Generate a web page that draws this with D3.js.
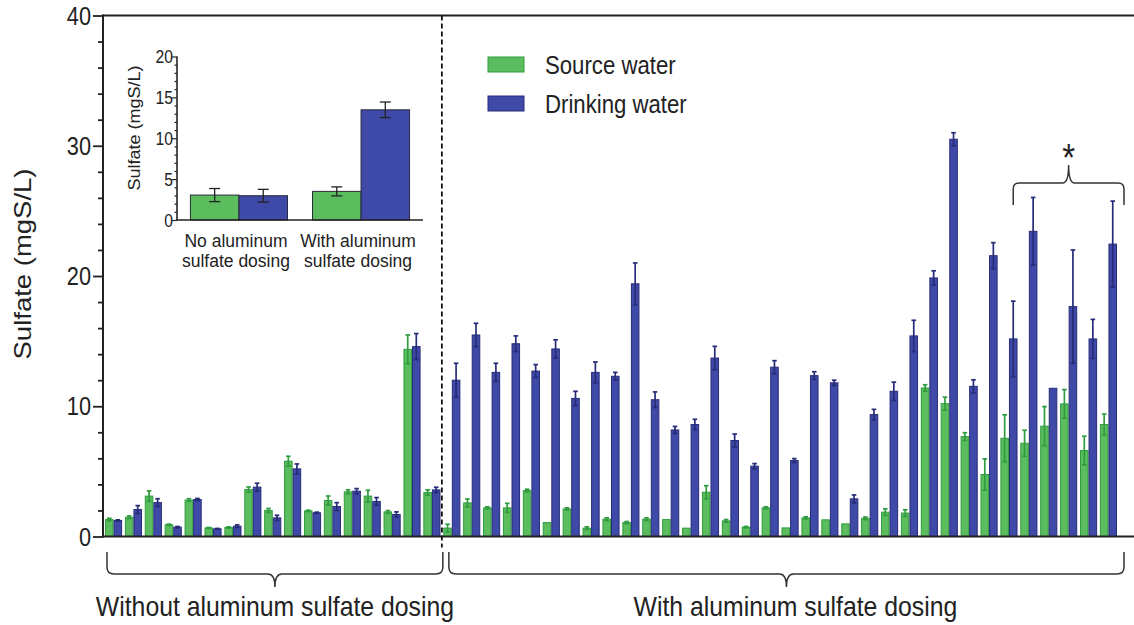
<!DOCTYPE html>
<html>
<head>
<meta charset="utf-8">
<script src="https://cdn.jsdelivr.net/npm/d3@7"></script>
<style>
  html, body { margin: 0; padding: 0; background: #fff; }
  svg { display: block; font-family: "Liberation Sans", Arial, Helvetica, sans-serif; }
</style>
</head>
<body>
<svg id="chart" width="1134" height="625"></svg>
<script>
// Sulfate in source and drinking water, per treatment plant (mgS/L)
const plantsWithout = 17;   // plants without aluminum sulfate dosing
const plantsWith = 34;      // plants with aluminum sulfate dosing

const sourceWater = [
  1.3, 1.48, 3.1, 0.9, 2.8, 0.66, 0.69, 3.6, 2.0, 5.78, 1.97, 2.76, 3.43, 3.1, 1.89, 14.37, 3.38,
  0.64, 2.58, 2.2, 2.2, 3.53, 1.07, 2.12, 0.64, 1.33, 1.07, 1.33, 1.3, 0.64, 3.4, 1.2, 0.72, 2.2,
  0.66, 1.43, 1.28, 0.97, 1.4, 1.87, 1.8, 11.4, 10.2, 7.67, 4.76, 7.54, 7.16, 8.47, 10.18, 6.6, 8.6
];
const sourceErr = [
  0.1, 0.1, 0.4, 0.05, 0.1, 0.03, 0.05, 0.2, 0.15, 0.38, 0.05, 0.35, 0.15, 0.45, 0.1, 1.1, 0.2,
  0.3, 0.3, 0.08, 0.35, 0.1, 0, 0.08, 0.1, 0.1, 0.08, 0.1, 0, 0, 0.5, 0.1, 0.05, 0.08,
  0, 0.08, 0, 0, 0.1, 0.25, 0.25, 0.25, 0.5, 0.3, 1.2, 1.8, 1.0, 1.5, 1.1, 1.1, 0.8
];
const drinkingWater = [
  1.23, 2.07, 2.6, 0.72, 2.84, 0.59, 0.79, 3.79, 1.43, 5.19, 1.82, 2.3, 3.48, 2.69, 1.69, 14.58, 3.58,
  12.0, 15.47, 12.6, 14.8, 12.7, 14.4, 10.6, 12.6, 12.3, 19.4, 10.5, 8.18, 8.6, 13.7, 7.37, 5.4, 13.0,
  5.83, 12.35, 11.8, 2.89, 9.36, 11.15, 15.4, 19.85, 30.5, 11.53, 21.56, 15.17, 23.43, 11.38, 17.65, 15.17, 22.45
];
const drinkingErr = [
  0.05, 0.3, 0.3, 0.05, 0.08, 0.03, 0.1, 0.3, 0.2, 0.38, 0.05, 0.3, 0.2, 0.3, 0.2, 1.0, 0.2,
  1.3, 0.9, 0.7, 0.6, 0.5, 0.7, 0.55, 0.8, 0.3, 1.6, 0.6, 0.27, 0.4, 0.9, 0.5, 0.2, 0.5,
  0.15, 0.3, 0.2, 0.3, 0.4, 0.7, 1.2, 0.55, 0.5, 0.5, 1.0, 2.9, 2.6, 0, 4.35, 1.5, 3.3
];

// Inset: means over the two plant groups
const insetCategories = [["No aluminum", "sulfate dosing"], ["With aluminum", "sulfate dosing"]];
const insetSource = [3.05, 3.5];
const insetSourceErr = [0.8, 0.55];
const insetDrinking = [2.97, 13.48];
const insetDrinkingErr = [0.78, 0.95];

const seriesNames = ["Source water", "Drinking water"];
const groupLabels = ["Without aluminum sulfate dosing", "With aluminum sulfate dosing"];
const mainTicks = [0, 10, 20, 30, 40];
const insetTicks = [0, 5, 10, 15, 20];

const colors = {
  greenFill: "#5cbd5e", greenLine: "#2f9d3f",
  blueFill: "#3f49a7", blueLine: "#272c78",
  ink: "#222"
};
const SQ = 0.87; // horizontal text compression of the figure's typeface

const svg = d3.select("#chart");

// Text drawn in a compressed typeface: a group with a horizontal scale
function label(parent, x, y, str, size, anchor, rotate, sq) {
  const g = parent.append("g")
    .attr("transform", `translate(${x},${y}) scale(${sq || SQ},1)` + (rotate ? ` rotate(${rotate})` : ""));
  g.append("text").attr("x", 0).attr("y", 0)
    .attr("font-size", size).attr("text-anchor", anchor || "start")
    .attr("fill", colors.ink).text(str);
  return g;
}

// ---------- Main chart ----------
const axisX = 103, plotRight = 1134;
const y = d3.scaleLinear().domain([0, 40]).range([536.5, 15.5]);
const n = plantsWithout + plantsWith;
const x = d3.scaleBand().domain(d3.range(n)).range([103, 1119]).paddingInner(0.14).paddingOuter(0.1);
const xs = d3.scaleBand().domain([0, 1]).range([0, x.bandwidth()]);

const rows = d3.range(n).map(i => ({
  i,
  vals: [
    { s: 0, v: sourceWater[i], e: sourceErr[i] },
    { s: 1, v: drinkingWater[i], e: drinkingErr[i] }
  ]
}));

const groups = svg.append("g").selectAll("g").data(rows).join("g")
  .attr("transform", d => `translate(${x(d.i)},0)`);

groups.selectAll("rect").data(d => d.vals).join("rect")
  .attr("x", d => xs(d.s) + 0.5)
  .attr("y", d => y(d.v))
  .attr("width", xs.bandwidth() - 1)
  .attr("height", d => y(0) - y(d.v))
  .attr("fill", d => d.s ? colors.blueFill : colors.greenFill)
  .attr("stroke", d => d.s ? colors.blueLine : colors.greenLine)
  .attr("stroke-width", 1);

// Error bars (mean ± SD), caps at both ends
const errs = groups.selectAll("g.err").data(d => d.vals.filter(v => v.e > 0)).join("g")
  .attr("class", "err")
  .attr("stroke", d => d.s ? colors.blueLine : colors.greenLine)
  .attr("stroke-width", 1.7);
errs.append("line")
  .attr("x1", d => xs(d.s) + xs.bandwidth() / 2).attr("x2", d => xs(d.s) + xs.bandwidth() / 2)
  .attr("y1", d => y(d.v + d.e)).attr("y2", d => y(Math.max(0, d.v - d.e)));
[1, -1].forEach(sign => {
  errs.append("line")
    .attr("x1", d => xs(d.s) + xs.bandwidth() / 2 - 2.3).attr("x2", d => xs(d.s) + xs.bandwidth() / 2 + 2.3)
    .attr("y1", d => y(Math.max(0, d.v + sign * d.e))).attr("y2", d => y(Math.max(0, d.v + sign * d.e)));
});

// Axes frame: left axis, top border, baseline
const yAxis = svg.append("g").attr("transform", `translate(${axisX},0)`)
  .call(d3.axisLeft(y).tickValues(d3.range(0, 41, 2)).tickSize(5).tickFormat(""));
yAxis.select(".domain").remove();
yAxis.selectAll(".tick line").attr("stroke", colors.ink).attr("stroke-width", 1.8)
  .attr("x2", d => (d % 10 === 0 ? -10 : -5));
svg.append("line").attr("x1", axisX).attr("x2", axisX).attr("y1", y(40) - 1).attr("y2", y(0) + 1)
  .attr("stroke", colors.ink).attr("stroke-width", 2);
svg.append("line").attr("x1", axisX - 1).attr("x2", plotRight).attr("y1", y(40)).attr("y2", y(40))
  .attr("stroke", colors.ink).attr("stroke-width", 2);
svg.append("line").attr("x1", axisX - 1).attr("x2", plotRight).attr("y1", y(0)).attr("y2", y(0))
  .attr("stroke", colors.ink).attr("stroke-width", 2);
mainTicks.forEach(t => label(svg, 91, y(t) + 9, String(t), 25, "end"));
label(svg, 31, 264, "Sulfate (mgS/L)", 27.5, "middle", -90);

// Divider between the two plant groups
const splitX = (x(plantsWithout - 1) + x.bandwidth() + x(plantsWithout)) / 2;
svg.append("line").attr("x1", splitX).attr("x2", splitX).attr("y1", y(40)).attr("y2", y(0) + 11)
  .attr("stroke", "#111").attr("stroke-width", 1.8).attr("stroke-dasharray", "5,3");

// Legend
const legend = svg.append("g");
seriesNames.forEach((name, k) => {
  const ly = 57 + k * 39;
  legend.append("rect").attr("x", 488).attr("y", ly).attr("width", 36).attr("height", 15)
    .attr("fill", k ? colors.blueFill : colors.greenFill)
    .attr("stroke", k ? colors.blueLine : colors.greenLine).attr("stroke-width", 1);
  label(legend, 545, ly + 17, name, 25.5, "start");
});

// Curly braces
function brace(x0, x1, yEnd, yBar, yTip, r) {
  const cx = (x0 + x1) / 2, dir = Math.sign(yTip - yBar);
  return `M${x0},${yEnd} L${x0},${yBar - dir * r} Q${x0},${yBar} ${x0 + r},${yBar}` +
    ` L${cx - r},${yBar} Q${cx},${yBar} ${cx},${yTip}` +
    ` Q${cx},${yBar} ${cx + r},${yBar} L${x1 - r},${yBar} Q${x1},${yBar} ${x1},${yBar - dir * r}` +
    ` L${x1},${yEnd}`;
}
const braceStyle = s => s.attr("fill", "none").attr("stroke", "#333").attr("stroke-width", 1.5);
const leftStart = x(0) + 2, leftEnd = splitX + 1;
const rightStart = splitX + 7, rightEnd = x(n - 1) + x.bandwidth() + 7;
svg.append("path").attr("d", brace(leftStart, leftEnd, 552, 574, 587, 7)).call(braceStyle);
svg.append("path").attr("d", brace(rightStart, rightEnd, 552, 574, 587, 7)).call(braceStyle);
label(svg, (leftStart + leftEnd) / 2, 616, groupLabels[0], 28.5, "middle");
label(svg, (rightStart + rightEnd) / 2 + 9, 616, groupLabels[1], 28.5, "middle");

// Bracket marking the plants with significant increase
const starStart = x(n - 6) + xs(1) + xs.bandwidth() / 2;
svg.append("path").attr("d", brace(starStart, rightEnd, 205, 183, 165, 6)).call(braceStyle);
label(svg, (starStart + rightEnd) / 2, 171, "*", 38, "middle");

// ---------- Inset ----------
const inset = svg.append("g");
const iy = d3.scaleLinear().domain([0, 20]).range([220, 56.5]);
const ix = d3.scaleBand().domain([0, 1]).range([177, 423]).paddingInner(0.205).paddingOuter(0.11);
const ixs = d3.scaleBand().domain([0, 1]).range([0, ix.bandwidth()]);
const insetRows = [0, 1].map(i => ({
  i,
  vals: [
    { s: 0, v: insetSource[i], e: insetSourceErr[i] },
    { s: 1, v: insetDrinking[i], e: insetDrinkingErr[i] }
  ]
}));
const ig = inset.selectAll("g.ig").data(insetRows).join("g").attr("class", "ig")
  .attr("transform", d => `translate(${ix(d.i)},0)`);
ig.selectAll("rect").data(d => d.vals).join("rect")
  .attr("x", d => ixs(d.s)).attr("y", d => iy(d.v))
  .attr("width", ixs.bandwidth()).attr("height", d => iy(0) - iy(d.v))
  .attr("fill", d => d.s ? colors.blueFill : colors.greenFill)
  .attr("stroke", "#2a2a3a").attr("stroke-width", 1);
const ie = ig.selectAll("g.ie").data(d => d.vals).join("g").attr("class", "ie")
  .attr("stroke", "#222").attr("stroke-width", 1.3);
ie.append("line")
  .attr("x1", d => ixs(d.s) + ixs.bandwidth() / 2).attr("x2", d => ixs(d.s) + ixs.bandwidth() / 2)
  .attr("y1", d => iy(d.v + d.e)).attr("y2", d => iy(d.v - d.e));
[1, -1].forEach(sign => {
  ie.append("line")
    .attr("x1", d => ixs(d.s) + ixs.bandwidth() / 2 - 5.5).attr("x2", d => ixs(d.s) + ixs.bandwidth() / 2 + 5.5)
    .attr("y1", d => iy(d.v + sign * d.e)).attr("y2", d => iy(d.v + sign * d.e));
});

const iAxis = inset.append("g").attr("transform", "translate(177,0)")
  .call(d3.axisLeft(iy).tickValues(d3.range(0, 21, 1)).tickFormat(""));
iAxis.select(".domain").remove();
iAxis.selectAll(".tick line").attr("stroke", colors.ink).attr("stroke-width", 1.2)
  .attr("x2", d => (d % 5 === 0 ? -5 : -2.5));
inset.append("line").attr("x1", 177).attr("x2", 177).attr("y1", iy(20)).attr("y2", iy(0))
  .attr("stroke", colors.ink).attr("stroke-width", 1.6);
inset.append("line").attr("x1", 176.5).attr("x2", 423).attr("y1", iy(0)).attr("y2", iy(0))
  .attr("stroke", colors.ink).attr("stroke-width", 1.6);
insetTicks.forEach(t => label(inset, 173, iy(t) + 6.5, String(t), 18, "end"));
label(inset, 140, 128, "Sulfate (mgS/L)", 18, "middle", -90);
insetCategories.forEach((lines, i) => {
  const cx = ix(i) + ix.bandwidth() / 2 - 3;
  lines.forEach((ln, k) => label(inset, cx, 247 + k * 19.5, ln, 17.5, "middle", 0, 1.0));
});
</script>
</body>
</html>
